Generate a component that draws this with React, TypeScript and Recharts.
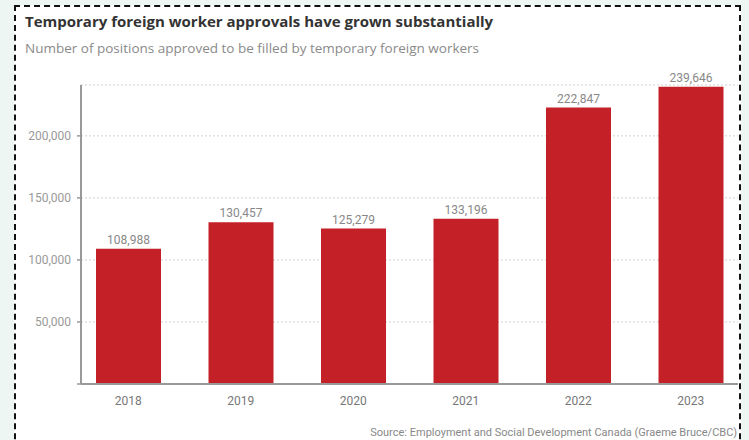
import React from 'react';
import { BarChart, Bar, XAxis, YAxis, CartesianGrid, LabelList } from 'recharts';

const years = ['2018', '2019', '2020', '2021', '2022', '2023'];
const approvals = [108988, 130457, 125279, 133196, 222847, 239646];
const yTicks = [0, 50000, 100000, 150000, 200000];

const data = years.map((year, i) => ({ year, approvals: approvals[i] }));

const fmt = (v: number) => v.toLocaleString('en-US');
const FONT = 'Roboto, "Liberation Sans", sans-serif';
const HEAD_FONT = '"Open Sans", Roboto, sans-serif';

export default function App() {
  return (
    <div style={{ position: 'absolute', left: 0, top: 0, width: 749, height: 440, background: '#eef6f3', overflow: 'hidden', fontFamily: FONT }}>
      <div style={{ position: 'absolute', left: 14, top: 5, width: 723, height: 460, background: '#ffffff', border: '2px dashed #111' }} />
      <div style={{ position: 'absolute', left: 25, top: 11, fontSize: 15, lineHeight: '20px', fontWeight: 700, color: '#333', whiteSpace: 'nowrap', fontFamily: HEAD_FONT }}>
        Temporary foreign worker approvals have grown substantially
      </div>
      <div style={{ position: 'absolute', left: 25, top: 39, fontSize: 13.5, lineHeight: '18px', color: '#8a8a8a', whiteSpace: 'nowrap', fontFamily: HEAD_FONT }}>
        Number of positions approved to be filled by temporary foreign workers
      </div>
      <div style={{ position: 'absolute', right: 12, top: 426, fontSize: 11, color: '#888', whiteSpace: 'nowrap' }}>
        Source: Employment and Social Development Canada (Graeme Bruce/CBC)
      </div>
      <div style={{ position: 'absolute', left: 0, top: 0 }}>
        <BarChart width={749} height={440} data={data} margin={{ top: 85, right: 11, bottom: 26, left: 21 }}>
          <CartesianGrid vertical={false} stroke="#cfcfcf" strokeDasharray="2 2" />
          <XAxis
            dataKey="year"
            height={30}
            padding={{ left: -9, right: -9 }}
            axisLine={{ stroke: '#999', strokeWidth: 2 }}
            tickLine={false}
            tick={{ fill: '#777', fontSize: 12, fontFamily: FONT }}
            tickMargin={6}
          />
          <YAxis
            width={60}
            domain={[0, 241000]}
            ticks={yTicks}
            interval={0}
            tickFormatter={(v: number) => (v === 0 ? '' : fmt(v))}
            axisLine={{ stroke: '#999', strokeWidth: 2 }}
            tickLine={{ stroke: '#999', strokeWidth: 1.5 }}
            tickSize={4}
            tickMargin={6}
            tick={{ fill: '#999', fontSize: 12, fontFamily: FONT }}
          />
          <Bar dataKey="approvals" fill="#c42027" barSize={65} isAnimationActive={false}>
            <LabelList dataKey="approvals" position="top" offset={5} formatter={(v: any) => fmt(Number(v))} fill="#888" fontSize={12} fontFamily={FONT} />
          </Bar>
        </BarChart>
      </div>
    </div>
  );
}
